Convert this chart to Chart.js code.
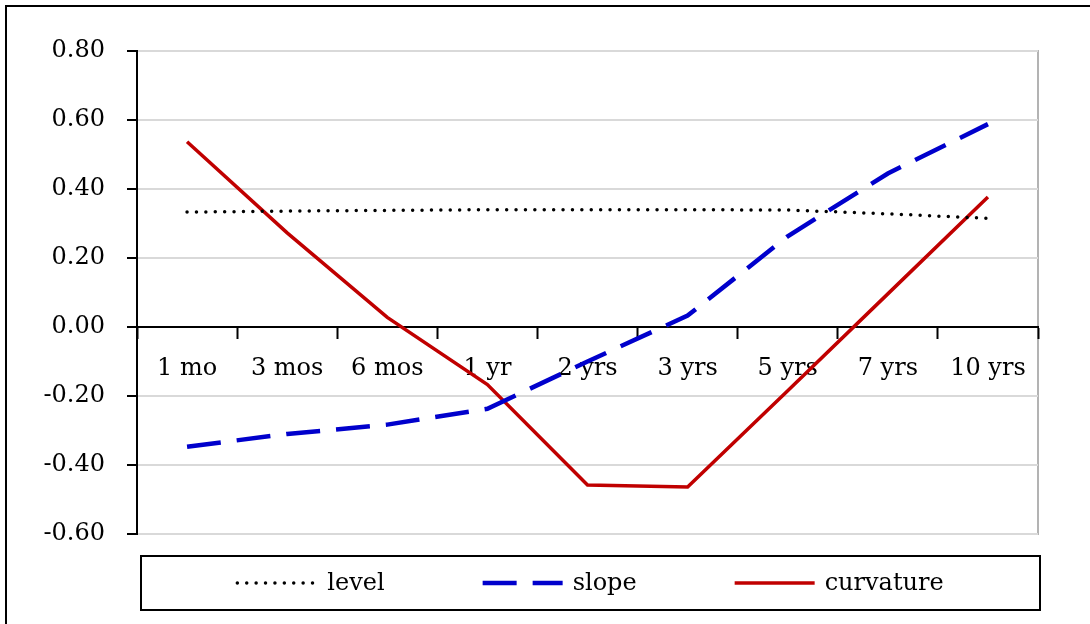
<!DOCTYPE html>
<html>
<head>
<meta charset="utf-8">
<script src="https://cdn.jsdelivr.net/npm/chart.js@4.4.1/dist/chart.umd.min.js"></script>
<style>
  html, body { margin:0; padding:0; background:#fff; }
  #wrap { width:1090px; height:624px; position:relative; }
</style>
</head>
<body>
<div id="wrap"><canvas id="c" width="1090" height="624"></canvas></div>
<script>
// datos
const categorias = ['1 mo','3 mos','6 mos','1 yr','2 yrs','3 yrs','5 yrs','7 yrs','10 yrs'];
const level     = [0.333, 0.336, 0.338, 0.340, 0.340, 0.340, 0.339, 0.328, 0.315];
const slope     = [-0.347, -0.310, -0.283, -0.237, -0.100, 0.033, 0.263, 0.445, 0.588];
const curvature = [0.537, 0.273, 0.028, -0.167, -0.458, -0.464, -0.185, 0.096, 0.377];
const yTicks    = [-0.6, -0.4, -0.2, 0, 0.2, 0.4, 0.6, 0.8];

const FONT = 'DejaVu Serif';

// marco exterior + borde derecho del área + leyenda con recuadro
const marco = {
  id: 'marco',
  beforeDraw(chart) {
    const {ctx, chartArea: a} = chart;
    ctx.save();
    ctx.strokeStyle = '#000'; ctx.lineWidth = 2;
    ctx.beginPath();
    ctx.moveTo(6, 630); ctx.lineTo(6, 6); ctx.lineTo(1100, 6);
    ctx.stroke();
    ctx.strokeStyle = '#b3b3b3';
    ctx.beginPath();
    ctx.moveTo(a.left, a.top); ctx.lineTo(a.right, a.top); ctx.lineTo(a.right, a.bottom); ctx.lineTo(a.left, a.bottom);
    ctx.stroke();
    ctx.restore();
  },
  afterDraw(chart) {
    const {ctx, chartArea: a} = chart;
    const top = a.bottom + 22, h = 54;
    ctx.save();
    ctx.strokeStyle = '#000'; ctx.lineWidth = 2;
    ctx.strokeRect(a.left + 4, top, a.right - a.left - 2, h);
    ctx.font = '24px "' + FONT + '"';
    ctx.textBaseline = 'middle';
    const sw = 80, gap = 10, sep = 98;
    const items = chart.data.datasets.map(d => ({d, w: ctx.measureText(d.label).width}));
    let total = items.reduce((s, it) => s + sw + gap + it.w, 0) + sep * (items.length - 1);
    let x = a.left + 4 + (a.right - a.left - 2 - total) / 2;
    const cy = top + h / 2;
    items.forEach(it => {
      const d = it.d;
      ctx.save();
      ctx.strokeStyle = d.borderColor;
      ctx.lineWidth = d.borderWidth;
      ctx.lineCap = d.borderCapStyle || 'butt';
      ctx.setLineDash(d.borderDash || []);
      ctx.beginPath(); ctx.moveTo(x, cy); ctx.lineTo(x + sw, cy); ctx.stroke();
      ctx.restore();
      ctx.fillStyle = '#000';
      ctx.fillText(d.label, x + sw + gap, cy + 1);
      x += sw + gap + it.w + sep;
    });
    ctx.restore();
  }
};

new Chart(document.getElementById('c'), {
  type: 'line',
  data: {
    labels: categorias,
    datasets: [
      {label:'level', data:level, borderColor:'#000', borderWidth:3.5, borderDash:[0, 9.4], borderCapStyle:'round', pointRadius:0, tension:0},
      {label:'slope', data:slope, borderColor:'#0000cc', borderWidth:4.5, borderDash:[34, 16], pointRadius:0, tension:0},
      {label:'curvature', data:curvature, borderColor:'#c00000', borderWidth:3.5, pointRadius:0, tension:0}
    ]
  },
  options: {
    responsive: false,
    animation: false,
    layout: {padding: {top: 51, right: 52, bottom: 90, left: 0}},
    plugins: {legend: {display: false}, tooltip: {enabled: false}},
    scales: {
      x: {
        position: {y: 0},
        offset: true,
        grid: {offset: true, drawOnChartArea: false, drawTicks: true, tickLength: 11, tickColor: '#000', tickWidth: 2},
        border: {color: '#000', width: 2},
        ticks: {color: '#000', font: {family: FONT, size: 24}, padding: 16, maxRotation: 0, autoSkip: false}
      },
      y: {
        min: -0.6, max: 0.8,
        afterBuildTicks: s => { s.ticks = yTicks.map(v => ({value: v})); },
        afterFit: s => { s.width = 137; },
        grid: {color: '#d9d9d9', lineWidth: 2, tickLength: 10, tickColor: '#000', tickWidth: 2},
        border: {color: '#000', width: 2},
        ticks: {color: '#000', font: {family: FONT, size: 24}, padding: 22, callback: v => v.toFixed(2)}
      }
    }
  },
  plugins: [marco]
});
</script>
</body>
</html>
